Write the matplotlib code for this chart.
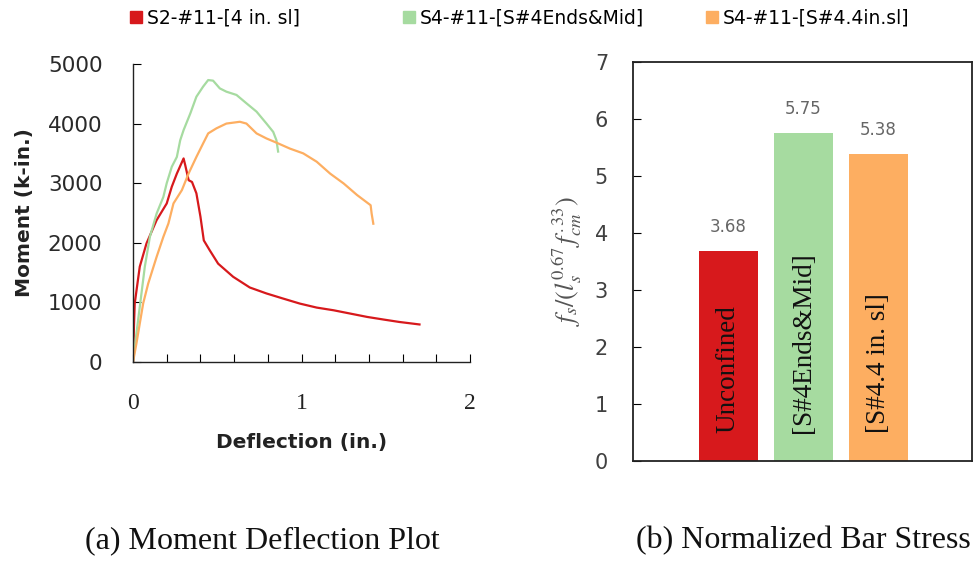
import matplotlib
matplotlib.use("Agg")
import matplotlib.pyplot as plt
from matplotlib.lines import Line2D

plt.rcParams["mathtext.fontset"] = "stix"

# Moment-deflection curves (deflection in., moment k-in.)
s2_defl = [0, 0.006, 0.01, 0.04, 0.08, 0.14, 0.20, 0.23, 0.26, 0.30, 0.31, 0.33, 0.35,
           0.376, 0.40, 0.42, 0.455, 0.505, 0.594, 0.693, 0.792, 0.89, 0.99, 1.09,
           1.19, 1.29, 1.39, 1.49, 1.58, 1.70]
s2_moment = [0, 645, 980, 1600, 1990, 2380, 2660, 2940, 3160, 3415, 3300, 3050, 3020,
             2830, 2440, 2040, 1875, 1650, 1430, 1250, 1150, 1065, 980, 913,
             868, 812, 756, 711, 672, 630]

s4m_defl = [0, 0.02, 0.04, 0.07, 0.10, 0.14, 0.18, 0.20, 0.23, 0.26, 0.28, 0.30, 0.34,
            0.376, 0.416, 0.446, 0.475, 0.515, 0.554, 0.614, 0.673, 0.733, 0.792,
            0.832, 0.851, 0.861]
s4m_moment = [0, 476, 924, 1600, 2100, 2490, 2770, 3000, 3275, 3440, 3720, 3890, 4170,
              4450, 4620, 4730, 4720, 4590, 4535, 4480, 4340, 4200, 4000,
              3860, 3720, 3530]

s4s_defl = [0, 0.02, 0.04, 0.06, 0.09, 0.14, 0.18, 0.21, 0.24, 0.29, 0.33, 0.376, 0.416,
            0.446, 0.495, 0.554, 0.634, 0.673, 0.733, 0.792, 0.851, 0.931, 1.01, 1.09,
            1.17, 1.25, 1.33, 1.41, 1.416, 1.426]
s4s_moment = [0, 308, 644, 980, 1316, 1764, 2100, 2324, 2660, 2884, 3164, 3440, 3667,
              3835, 3920, 4000, 4030, 4000, 3835, 3750, 3680, 3580, 3500, 3360,
              3160, 2995, 2800, 2630, 2490, 2320]

series_names = ["S2-#11-[4 in. sl]", "S4-#11-[S#4Ends&Mid]", "S4-#11-[S#4.4in.sl]"]
series_colors = ["#d7191c", "#a6dba0", "#fdae61"]

# Normalized bar stress
bar_labels = ["Unconfined", "[S#4Ends&Mid]", "[S#4.4 in. sl]"]
bar_values = [3.68, 5.75, 5.38]

fig = plt.figure(figsize=(9.76, 5.71), dpi=100)

# ---- (a) moment-deflection plot ----
ax1 = fig.add_axes([0.1363, 0.366, 0.3453, 0.522])
curves = [(s2_defl, s2_moment), (s4m_defl, s4m_moment), (s4s_defl, s4s_moment)]
for (xd, yd), c in zip(curves, series_colors):
    ax1.plot(xd, yd, color=c, lw=1.6)
ax1.set_xlim(0, 2)
ax1.set_ylim(0, 5000)
ax1.spines["top"].set_visible(False)
ax1.spines["right"].set_visible(False)
for s in ("left", "bottom"):
    ax1.spines[s].set_color("#222222")
    ax1.spines[s].set_linewidth(1.0)
ax1.set_xticks([i * 0.2 for i in range(11)])
ax1.set_xticklabels(["0", "", "", "", "", "1", "", "", "", "", "2"],
                    fontfamily="Liberation Serif", fontsize=17, color="#222222")
ax1.set_yticks([0, 1000, 2000, 3000, 4000, 5000])
ax1.set_yticklabels(["0", "1000", "2000", "3000", "4000", "5000"],
                    fontsize=15.5, fontweight="medium", color="#2a2a2a")
ax1.tick_params(axis="x", direction="in", length=6, pad=22)
ax1.tick_params(axis="y", direction="in", length=6, pad=22)
ax1.set_xlabel("Deflection (in.)", fontweight="bold", fontsize=14.5, color="#222222",
               labelpad=14)
ax1.set_ylabel("Moment (k-in.)", fontweight="bold", fontsize=14.5, color="#222222",
               labelpad=10)

# legend entries across the top
legend_x = [0.116, 0.396, 0.706]
for name, c, lx in zip(series_names, series_colors, legend_x):
    h = Line2D([], [], marker="s", linestyle="none", color=c, markersize=9)
    fig.legend([h], [name], loc="upper left", bbox_to_anchor=(lx, 1.012),
               frameon=False, handletextpad=0.2, handlelength=0.8,
               borderpad=0.3,
               prop={"family": ["DejaVu Sans"], "size": 13.5})

# ---- (b) normalized bar stress ----
ax2 = fig.add_axes([0.6486, 0.1926, 0.3473, 0.6988])
positions = [1, 2, 3]
ax2.bar(positions, bar_values, width=0.79, color=series_colors)
ax2.set_xlim(-0.27, 4.25)
ax2.set_ylim(0, 7)
ax2.set_xticks([])
ax2.set_yticks(range(8))
ax2.tick_params(axis="y", direction="in", length=6, pad=18, labelsize=15,
                labelcolor="#404040")
for s in ax2.spines.values():
    s.set_color("#222222")
    s.set_linewidth(1.3)
for p, v, lab in zip(positions, bar_values, bar_labels):
    ax2.text(p, v + 0.27, f"{v:.2f}", ha="center", va="bottom", fontsize=12,
             color="#666666")
    ax2.text(p, 0.5, lab, rotation=90, ha="center", va="bottom",
             fontfamily="Liberation Serif", fontsize=19.5, color="#111111")
ax2.set_ylabel(r"$f_s/(l_s^{0.67}\,f_{cm}^{.33})$", fontsize=19, color="#555555",
               labelpad=8)

# captions
fig.text(0.269, 0.04, "(a) Moment Deflection Plot", ha="center",
         fontfamily="Liberation Serif", fontsize=23, color="#111111")
fig.text(0.823, 0.04, "(b) Normalized Bar Stress", ha="center",
         fontfamily="Liberation Serif", fontsize=23, color="#111111")

fig.savefig("out.png", dpi=100)
